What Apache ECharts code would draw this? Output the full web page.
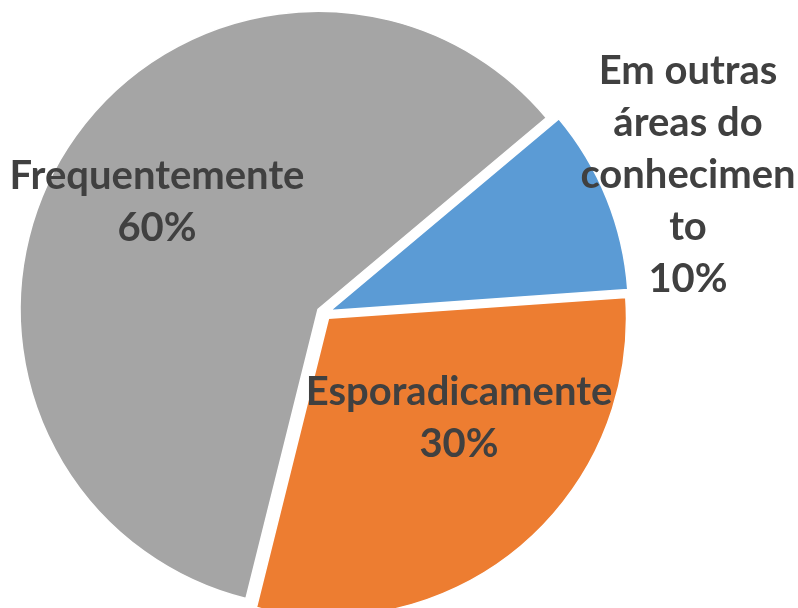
<!DOCTYPE html>
<html>
<head>
<meta charset="utf-8">
<script src="https://cdn.jsdelivr.net/npm/echarts@6/dist/echarts.min.js"></script>
<style>
  html, body { margin: 0; padding: 0; background: #fff; }
  #chart { width: 798px; height: 608px; }
</style>
</head>
<body>
<div id="chart"></div>
<script>
// dados da pizza
var names = ['Em outras áreas do conhecimento', 'Esporadicamente', 'Frequentemente'];
var values = [10, 30, 60];
var colors = ['#5B9BD5', '#ED7D31', '#A5A5A5'];
// quebras de linha como no Excel
var wrapped = {
  'Em outras áreas do conhecimento': 'Em outras\náreas do\nconhecimen\nto'
};
// onde fica cada rótulo (centro do bloco de texto)
var labelPos = [[688, 175], [459, 418], [157, 202]];

var chartDom = document.getElementById('chart');
var myChart = echarts.init(chartDom);

var total = values.reduce(function (a, b) { return a + b; }, 0);

// rótulos como no Excel (a pizza não deixa posicionar livremente)
var labels = names.map(function (n, i) {
  return {
    type: 'text',
    x: labelPos[i][0],
    y: labelPos[i][1],
    z: 10,
    style: {
      text: (wrapped[n] || n) + '\n' + Math.round(values[i] / total * 100) + '%',
      fill: '#404040',
      font: 'bold 40px Lato',
      lineHeight: 52,
      textAlign: 'center',
      textVerticalAlign: 'middle'
    }
  };
});

var option = {
  animation: false,
  graphic: labels,
  series: [
    {
      type: 'pie',
      center: [324, 313],
      radius: [0, 298],
      startAngle: 40,
      clockwise: true,
      selectedMode: 'multiple',
      selectedOffset: 7,
      itemStyle: { borderColor: '#fff', borderWidth: 1.5 },
      emphasis: { disabled: true },
      label: { show: false },
      labelLine: { show: false },
      data: names.map(function (n, i) {
        return { name: n, value: values[i], selected: true, itemStyle: { color: colors[i] } };
      })
    }
  ]
};

option && myChart.setOption(option);
</script>
</body>
</html>
